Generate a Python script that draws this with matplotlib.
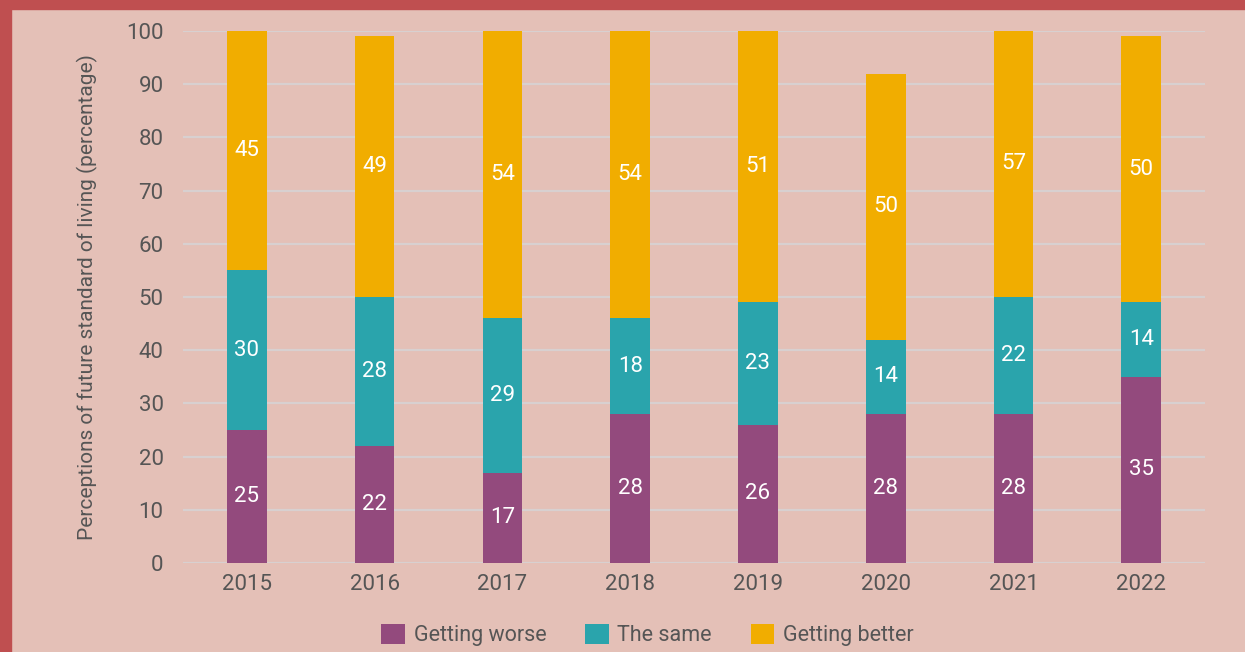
import matplotlib.pyplot as plt
from matplotlib.patches import Rectangle
import numpy as np

years = ["2015", "2016", "2017", "2018", "2019", "2020", "2021", "2022"]
getting_worse = [25, 22, 17, 28, 26, 28, 28, 35]
the_same = [30, 28, 29, 18, 23, 14, 22, 14]
getting_better = [45, 49, 54, 54, 51, 50, 57, 50]

BG = "#e4c0b7"
FRAME = "#bf4f50"
TXT = "#555555"
colors = {"worse": "#934a7d", "same": "#2aa4ac", "better": "#f1ad00"}

plt.rcParams["font.family"] = ["Roboto", "DejaVu Sans"]

fig = plt.figure(figsize=(12.45, 6.52), dpi=100, facecolor=BG)
ax = fig.add_axes([0.147, 0.1365, 0.821, 0.816])
ax.set_facecolor(BG)

# red frame along top and left edge
fig.patches.append(Rectangle((0, 1 - 9 / 652), 1, 9 / 652, transform=fig.transFigure,
                             color=FRAME, zorder=0))
fig.patches.append(Rectangle((0, 0), 11 / 1245, 1, transform=fig.transFigure,
                             color=FRAME, zorder=0))

x = np.arange(len(years))
w = 0.31
worse = np.array(getting_worse)
same = np.array(the_same)
better = np.array(getting_better)

b1 = ax.bar(x, worse, w, color=colors["worse"], label="Getting worse", zorder=3)
b2 = ax.bar(x, same, w, bottom=worse, color=colors["same"], label="The same", zorder=3)
b3 = ax.bar(x, better, w, bottom=worse + same, color=colors["better"],
            label="Getting better", zorder=3)

for bars in (b1, b2, b3):
    ax.bar_label(bars, label_type="center", color="white", fontsize=16)

ax.set_xlim(-0.5, 7.5)
ax.set_ylim(0, 100)
ax.set_yticks(range(0, 101, 10))
ax.set_xticks(x)
ax.set_xticklabels(years)
ax.tick_params(length=0, labelsize=16, colors=TXT, pad=8)
ax.tick_params(axis="y", pad=14)
ax.yaxis.grid(True, color="#d8d0d0", linewidth=1.6, zorder=0)
ax.set_axisbelow(True)
for s in ax.spines.values():
    s.set_visible(False)

ax.set_ylabel("Perceptions of future standard of living (percentage)",
              fontsize=15, color=TXT, labelpad=20)

fig.legend(handles=[b1, b2, b3], loc="center", bbox_to_anchor=(0.52, 0.026),
           ncol=3, frameon=False, fontsize=15.5, labelcolor=TXT,
           handlelength=1.1, handleheight=1.1, handletextpad=0.4, columnspacing=1.8)

fig.savefig("out.png", dpi=100, facecolor=BG)
